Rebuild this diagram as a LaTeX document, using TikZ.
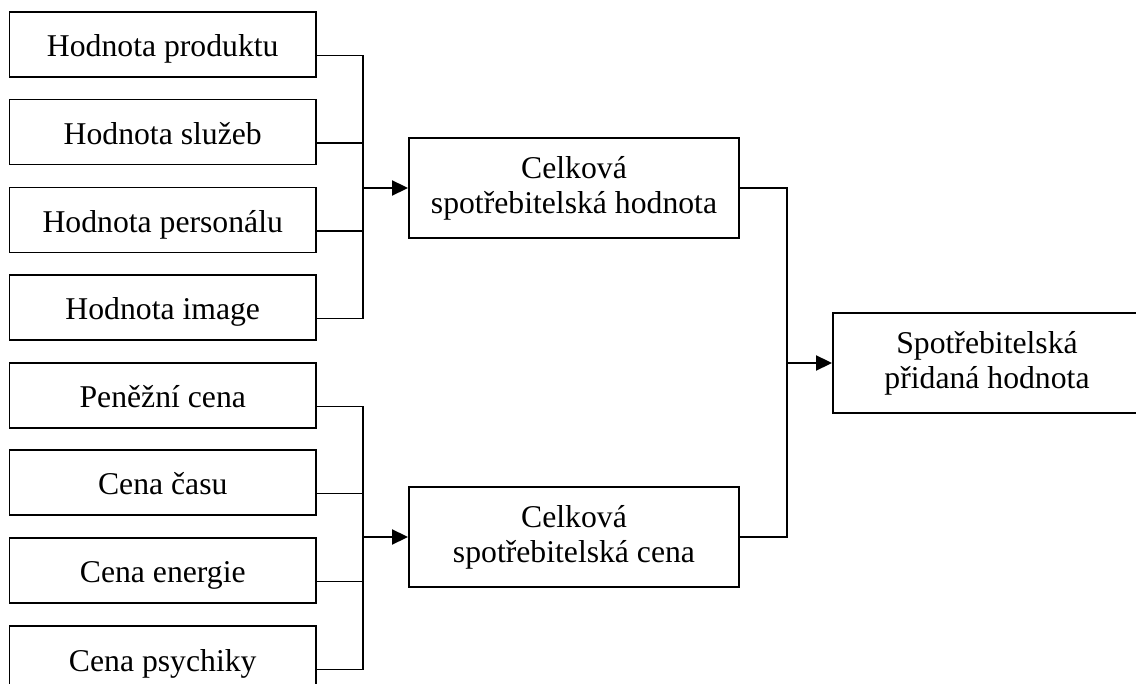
\documentclass[tikz,border=0pt]{standalone}
\usepackage{fontspec}
\setmainfont{Liberation Serif}
\usetikzlibrary{arrows.meta}
\begin{document}
\begin{tikzpicture}[x=1pt,y=-1pt,
  line width=1.9pt,
  every node/.style={font=\fontsize{31.7}{35}\selectfont, inner sep=0pt},
  leftbox/.style={draw, minimum width=306.5pt, minimum height=65pt, text height=25pt, text depth=0pt},
  midbox/.style={draw, minimum width=330pt, minimum height=100pt, align=center},
  rightbox/.style={draw, minimum width=308pt, minimum height=100pt, align=center},
  arr/.style={-{Triangle[length=16pt,width=15pt]}}]
\useasboundingbox (0,0) rectangle (1136,684);
% left column
\node[leftbox] (b1) at (162.75,44.5) {Hodnota produktu};
\node[leftbox] (b2) at (162.75,132) {Hodnota služeb};
\node[leftbox] (b3) at (162.75,220) {Hodnota personálu};
\node[leftbox] (b4) at (162.75,307.5) {Hodnota image};
\node[leftbox] (b5) at (162.75,395.5) {Peněžní cena};
\node[leftbox] (b6) at (162.75,482.5) {Cena času};
\node[leftbox] (b7) at (162.75,570.5) {Cena energie};
\node[leftbox] (b8) at (162.75,658.5) {Cena psychiky};
% middle
\node[midbox] (m1) at (574,188) {Celková\\spotřebitelská hodnota};
\node[midbox] (m2) at (574,537) {Celková\\spotřebitelská cena};
% right
\node[rightbox] (r) at (987,363) {Spotřebitelská\\přidaná hodnota};
% connector start points
\foreach \i in {1,...,8} {\coordinate (o\i) at ([yshift=-11pt]b\i.east);}
% buses
\coordinate (busl) at (362.7,0);
\coordinate (busr) at (787,0);
\draw (o1) -| (busl |- o4) -- (o4);
\draw (o2) -- (busl |- o2);
\draw (o3) -- (busl |- o3);
\draw[arr] (busl |- m1.west) -- (m1.west);
\draw (o5) -| (busl |- o8) -- (o8);
\draw (o6) -- (busl |- o6);
\draw (o7) -- (busl |- o7);
\draw[arr] (busl |- m2.west) -- (m2.west);
\draw (m1.east) -| (busr |- m2.east) -- (m2.east);
\draw[arr] (busr |- r.west) -- (r.west);
\end{tikzpicture}
\end{document}
